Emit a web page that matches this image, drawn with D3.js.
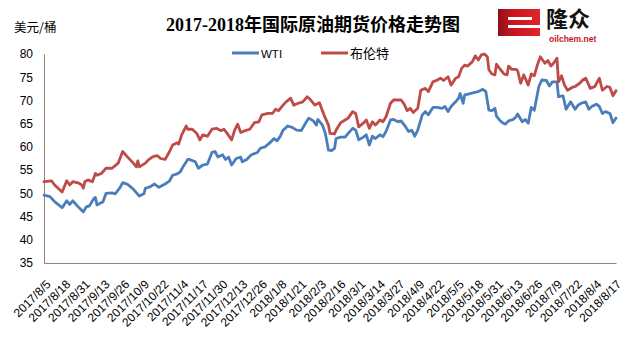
<!DOCTYPE html>
<html>
<head>
<meta charset="utf-8">
<script src="https://cdn.jsdelivr.net/npm/d3@7"></script>
<style>
  html, body { margin: 0; padding: 0; background: #ffffff; }
  svg { display: block; }
</style>
</head>
<body>
<div id="chart"></div>
<script>
// ---- data ----
const chartTitle = "2017-2018年国际原油期货价格走势图";
const unitLabel = "美元/桶";
const seriesNames = ["WTI", "布伦特"];
const yTicks = [35, 40, 45, 50, 55, 60, 65, 70, 75, 80];
const xTickLabels = ["2017/8/5","2017/8/18","2017/8/31","2017/9/13","2017/9/26","2017/10/9","2017/10/22",
  "2017/11/4","2017/11/17","2017/11/30","2017/12/13","2017/12/26","2018/1/8","2018/1/21","2018/2/3",
  "2018/2/16","2018/3/1","2018/3/14","2018/3/27","2018/4/9","2018/4/22","2018/5/5","2018/5/18",
  "2018/5/31","2018/6/13","2018/6/26","2018/7/9","2018/7/22","2018/8/4","2018/8/17"];
const dateRange = ["2017-08-05", "2018-08-18"];

const wti = [["2017-08-05",49.6],["2017-08-09",49.3],["2017-08-12",48.2],["2017-08-17",46.9],["2017-08-20",48.4],["2017-08-22",47.6],["2017-08-24",48.4],["2017-08-27",47.3],["2017-08-31",46.0],["2017-09-02",47.1],["2017-09-04",47.3],["2017-09-07",48.9],["2017-09-08",49.1],["2017-09-09",47.5],["2017-09-13",48.2],["2017-09-15",50.0],["2017-09-19",50.1],["2017-09-21",49.9],["2017-09-24",51.1],["2017-09-26",52.3],["2017-09-29",52.0],["2017-10-03",50.9],["2017-10-07",49.4],["2017-10-10",49.9],["2017-10-11",51.1],["2017-10-14",51.4],["2017-10-17",52.0],["2017-10-20",51.3],["2017-10-24",52.0],["2017-10-27",52.7],["2017-10-29",53.9],["2017-11-01",54.2],["2017-11-03",54.6],["2017-11-05",55.8],["2017-11-08",57.3],["2017-11-09",57.3],["2017-11-13",56.8],["2017-11-15",55.4],["2017-11-18",56.1],["2017-11-21",56.3],["2017-11-24",58.8],["2017-11-26",59.0],["2017-11-28",57.8],["2017-12-01",58.3],["2017-12-03",57.3],["2017-12-05",57.8],["2017-12-07",56.1],["2017-12-10",57.5],["2017-12-13",57.8],["2017-12-14",56.8],["2017-12-17",57.3],["2017-12-20",58.3],["2017-12-24",58.8],["2017-12-26",59.7],["2017-12-29",60.0],["2018-01-01",60.8],["2018-01-04",61.8],["2018-01-06",61.3],["2018-01-08",62.2],["2018-01-10",63.6],["2018-01-13",64.5],["2018-01-16",64.2],["2018-01-19",63.6],["2018-01-22",63.5],["2018-01-25",65.2],["2018-01-27",66.2],["2018-01-30",65.6],["2018-02-01",64.7],["2018-02-02",65.9],["2018-02-05",64.7],["2018-02-07",62.8],["2018-02-09",59.3],["2018-02-11",59.2],["2018-02-13",59.7],["2018-02-14",61.8],["2018-02-17",62.1],["2018-02-20",62.1],["2018-02-22",62.9],["2018-02-25",64.0],["2018-02-27",63.6],["2018-03-01",61.5],["2018-03-04",62.1],["2018-03-06",62.6],["2018-03-08",60.4],["2018-03-10",62.3],["2018-03-12",61.8],["2018-03-15",62.6],["2018-03-17",62.2],["2018-03-19",63.3],["2018-03-22",65.8],["2018-03-24",65.9],["2018-03-27",65.4],["2018-03-29",65.6],["2018-04-01",64.3],["2018-04-03",63.3],["2018-04-05",63.6],["2018-04-07",62.3],["2018-04-09",63.6],["2018-04-12",66.9],["2018-04-14",67.6],["2018-04-16",66.9],["2018-04-19",68.5],["2018-04-22",68.5],["2018-04-25",68.3],["2018-04-27",68.7],["2018-04-29",67.6],["2018-05-01",68.7],["2018-05-04",69.7],["2018-05-06",70.5],["2018-05-07",71.5],["2018-05-09",69.4],["2018-05-10",71.2],["2018-05-13",71.4],["2018-05-16",71.7],["2018-05-19",71.9],["2018-05-22",72.4],["2018-05-24",71.9],["2018-05-26",67.9],["2018-05-28",67.8],["2018-05-30",68.3],["2018-05-31",66.6],["2018-06-02",65.8],["2018-06-04",65.2],["2018-06-06",64.9],["2018-06-08",65.6],["2018-06-11",65.9],["2018-06-13",66.5],["2018-06-14",67.1],["2018-06-17",65.4],["2018-06-19",65.9],["2018-06-21",65.1],["2018-06-23",68.5],["2018-06-25",67.9],["2018-06-28",73.0],["2018-06-30",74.4],["2018-07-03",74.3],["2018-07-05",73.1],["2018-07-07",74.0],["2018-07-10",74.0],["2018-07-11",70.8],["2018-07-14",71.0],["2018-07-16",68.1],["2018-07-19",69.7],["2018-07-22",68.1],["2018-07-24",69.0],["2018-07-26",69.4],["2018-07-29",69.7],["2018-07-31",68.1],["2018-08-02",68.7],["2018-08-05",69.2],["2018-08-07",68.7],["2018-08-09",67.2],["2018-08-11",67.6],["2018-08-14",67.2],["2018-08-16",65.2],["2018-08-18",66.2]];

const brent = [["2017-08-05",52.5],["2017-08-10",52.7],["2017-08-12",51.8],["2017-08-17",50.3],["2017-08-20",52.7],["2017-08-22",51.8],["2017-08-24",52.5],["2017-08-28",52.2],["2017-08-30",51.8],["2017-08-31",51.1],["2017-09-01",52.5],["2017-09-03",52.9],["2017-09-06",52.5],["2017-09-08",54.3],["2017-09-09",53.9],["2017-09-12",54.3],["2017-09-15",55.4],["2017-09-19",55.4],["2017-09-23",56.5],["2017-09-26",59.0],["2017-09-29",57.9],["2017-10-03",56.5],["2017-10-05",55.7],["2017-10-06",57.0],["2017-10-07",55.7],["2017-10-11",56.5],["2017-10-13",57.2],["2017-10-16",57.9],["2017-10-19",58.1],["2017-10-21",57.5],["2017-10-24",57.3],["2017-10-27",59.0],["2017-10-29",60.4],["2017-11-01",60.9],["2017-11-02",60.6],["2017-11-04",62.6],["2017-11-07",64.5],["2017-11-08",63.8],["2017-11-11",63.8],["2017-11-14",62.9],["2017-11-16",61.5],["2017-11-18",62.6],["2017-11-21",62.3],["2017-11-24",63.8],["2017-11-27",64.0],["2017-11-30",63.5],["2017-12-02",63.8],["2017-12-04",62.9],["2017-12-07",61.5],["2017-12-09",63.6],["2017-12-11",64.9],["2017-12-13",63.1],["2017-12-16",63.5],["2017-12-19",63.8],["2017-12-22",65.2],["2017-12-25",65.4],["2017-12-27",66.9],["2017-12-31",67.2],["2018-01-03",67.2],["2018-01-05",68.1],["2018-01-07",67.8],["2018-01-10",69.0],["2018-01-12",69.7],["2018-01-15",70.5],["2018-01-17",69.0],["2018-01-20",69.4],["2018-01-23",69.7],["2018-01-26",70.8],["2018-01-28",70.2],["2018-01-31",69.0],["2018-02-03",69.5],["2018-02-06",66.9],["2018-02-09",64.7],["2018-02-10",62.9],["2018-02-13",62.8],["2018-02-14",63.6],["2018-02-17",65.2],["2018-02-20",65.8],["2018-02-22",66.2],["2018-02-25",67.6],["2018-02-27",67.2],["2018-03-01",64.3],["2018-03-04",65.1],["2018-03-06",65.8],["2018-03-08",64.0],["2018-03-10",65.4],["2018-03-12",64.7],["2018-03-15",65.8],["2018-03-17",65.4],["2018-03-19",66.5],["2018-03-22",69.4],["2018-03-24",70.1],["2018-03-27",70.1],["2018-03-29",70.1],["2018-03-31",69.2],["2018-04-02",67.8],["2018-04-04",68.3],["2018-04-06",67.4],["2018-04-09",68.3],["2018-04-11",72.2],["2018-04-14",72.6],["2018-04-16",71.9],["2018-04-19",74.0],["2018-04-22",74.4],["2018-04-24",74.8],["2018-04-26",74.3],["2018-04-29",75.1],["2018-05-01",73.3],["2018-05-04",74.8],["2018-05-06",75.1],["2018-05-08",76.9],["2018-05-10",77.6],["2018-05-12",77.4],["2018-05-15",78.3],["2018-05-17",79.6],["2018-05-19",78.7],["2018-05-21",79.8],["2018-05-23",80.0],["2018-05-25",79.4],["2018-05-26",76.6],["2018-05-28",75.7],["2018-05-30",75.5],["2018-05-31",77.8],["2018-06-02",76.9],["2018-06-05",75.7],["2018-06-07",75.5],["2018-06-08",77.4],["2018-06-10",76.7],["2018-06-13",76.7],["2018-06-14",76.4],["2018-06-16",73.7],["2018-06-18",75.5],["2018-06-19",74.8],["2018-06-21",73.3],["2018-06-23",75.7],["2018-06-25",75.3],["2018-06-27",77.6],["2018-06-29",79.4],["2018-07-02",78.0],["2018-07-04",78.6],["2018-07-06",77.4],["2018-07-08",78.1],["2018-07-10",79.1],["2018-07-11",74.0],["2018-07-13",75.3],["2018-07-15",73.3],["2018-07-17",72.2],["2018-07-20",72.8],["2018-07-22",73.0],["2018-07-25",73.7],["2018-07-27",74.4],["2018-07-29",74.8],["2018-08-01",72.6],["2018-08-04",73.0],["2018-08-07",74.8],["2018-08-09",72.2],["2018-08-12",73.0],["2018-08-14",72.8],["2018-08-16",71.0],["2018-08-18",72.1]];

// ---- layout ----
const W = 632, H = 337;
const plot = { left: 44, right: 616, top: 54, bottom: 263 };
const colors = { wti: "#4A7EBB", brent: "#BE4B48", axis: "#868686", text: "#000000" };

const parseDay = d3.timeParse("%Y-%m-%d");
const parseLabel = d3.timeParse("%Y/%m/%d");

const x = d3.scaleTime()
  .domain(dateRange.map(parseDay))
  .range([plot.left, plot.right]);
const y = d3.scaleLinear()
  .domain([35, 80])
  .range([plot.bottom, plot.top]);

const svg = d3.select("#chart").append("svg")
  .attr("width", W).attr("height", H)
  .style("font-family", "'Liberation Sans', Arial, sans-serif");

svg.append("rect").attr("width", W).attr("height", H).attr("fill", "#fff");

// title
svg.append("text")
  .attr("x", 313).attr("y", 31)
  .attr("text-anchor", "middle")
  .style("font-family", "'Liberation Serif', 'Noto Sans CJK SC', serif")
  .style("font-weight", "bold")
  .style("font-size", "18px")
  .attr("fill", colors.text)
  .text(chartTitle);

// unit label
svg.append("text")
  .attr("x", 14).attr("y", 32)
  .style("font-family", "'Noto Sans CJK SC', sans-serif")
  .style("font-size", "12.5px")
  .attr("fill", colors.text)
  .text(unitLabel);

// logo: red "e" badge, name and web address
const logo = svg.append("g").attr("class", "logo");
const grad = svg.append("defs").append("linearGradient")
  .attr("id", "logoGrad").attr("x1", "0").attr("x2", "1").attr("y1", "0").attr("y2", "0");
grad.append("stop").attr("offset", "0").attr("stop-color", "#8e0f1a");
grad.append("stop").attr("offset", "0.35").attr("stop-color", "#c8141f");
grad.append("stop").attr("offset", "1").attr("stop-color", "#e1252c");
logo.append("rect").attr("x", 498).attr("y", 9).attr("width", 42).attr("height", 27)
  .attr("fill", "url(#logoGrad)");
logo.append("rect").attr("x", 508).attr("y", 17).attr("width", 24).attr("height", 3).attr("fill", "#fff");
logo.append("rect").attr("x", 508).attr("y", 25).attr("width", 32).attr("height", 3).attr("fill", "#fff");
logo.append("text").attr("x", 546).attr("y", 27)
  .style("font-family", "'Noto Sans CJK SC', sans-serif")
  .style("font-weight", "bold").style("font-size", "22px")
  .attr("fill", "#111").text("隆众");
logo.append("text").attr("x", 549).attr("y", 42)
  .style("font-family", "'Liberation Sans', Arial, sans-serif")
  .style("font-weight", "bold").style("font-size", "8.5px")
  .attr("fill", "#c8141f").text("oilchem.net");

// axes
const yAxis = svg.append("g")
  .attr("transform", `translate(${plot.left},0)`)
  .call(d3.axisLeft(y).tickValues(yTicks).tickSize(0).tickPadding(11));
yAxis.select(".domain").attr("stroke", colors.axis).attr("stroke-width", 1);
yAxis.selectAll("text").style("font-size", "12px").attr("fill", colors.text)
  .style("font-family", "'Liberation Sans', Arial, sans-serif");

const xTickDates = xTickLabels.map(parseLabel);
const xAxis = svg.append("g")
  .attr("transform", `translate(0,${plot.bottom})`)
  .call(d3.axisBottom(x).tickValues(xTickDates).tickSize(0)
    .tickFormat((d, i) => xTickLabels[i]));
xAxis.select(".domain").attr("stroke", colors.axis).attr("stroke-width", 1);
xAxis.selectAll(".tick text")
  .attr("text-anchor", "end")
  .attr("dy", null)
  .attr("y", 0)
  .attr("transform", "translate(7,22) rotate(-45)")
  .style("font-size", "12px")
  .style("font-family", "'Liberation Sans', Arial, sans-serif")
  .attr("fill", colors.text);

// series lines
const line = d3.line()
  .x(d => x(parseDay(d[0])))
  .y(d => y(d[1]));

svg.append("path").datum(wti)
  .attr("fill", "none").attr("stroke", colors.wti)
  .attr("stroke-width", 2.8).attr("stroke-linejoin", "round").attr("stroke-linecap", "round")
  .attr("d", line);
svg.append("path").datum(brent)
  .attr("fill", "none").attr("stroke", colors.brent)
  .attr("stroke-width", 2.8).attr("stroke-linejoin", "round").attr("stroke-linecap", "round")
  .attr("d", line);

// legend
const legend = svg.append("g").attr("class", "legend");
const legendItems = [
  { name: seriesNames[0], color: colors.wti, x: 232, font: "11.5px", family: "'Liberation Sans', Arial, sans-serif" },
  { name: seriesNames[1], color: colors.brent, x: 321, font: "13px", family: "'Noto Sans CJK SC', sans-serif" }
];
legendItems.forEach(it => {
  legend.append("line")
    .attr("x1", it.x).attr("x2", it.x + 27).attr("y1", 53).attr("y2", 53)
    .attr("stroke", it.color).attr("stroke-width", 3);
  legend.append("text")
    .attr("x", it.x + 29).attr("y", 57.5)
    .style("font-size", it.font).style("font-family", it.family)
    .attr("fill", colors.text).text(it.name);
});
</script>
</body>
</html>
